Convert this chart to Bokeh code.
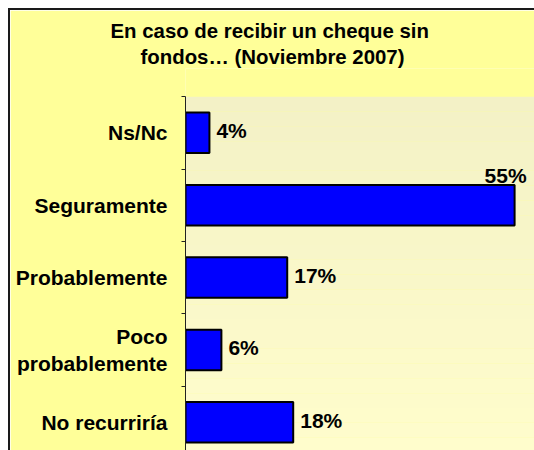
from bokeh.plotting import figure
from bokeh.models import (Range1d, FixedTicker, BoxAnnotation, ColumnDataSource, Title)
from bokeh.core.properties import value
from bokeh.embed import file_html
from bokeh.resources import INLINE

# ---- data ----
categories = ["Ns/Nc", "Seguramente", "Probablemente", "Poco\nprobablemente", "No recurriría"]
percentages = [4, 55, 17, 6, 18]
value_labels = ["4%", "55%", "17%", "6%", "18%"]
title_lines = ["En caso de recibir un cheque sin", "fondos\u2026 (Noviembre 2007)"]

FONT = "Liberation Sans"
X_MAX = 58.66
Y_TOP, Y_BOTTOM = -0.5, 4.4167      # extent of the shaded plot area
Y_HEADROOM = 0.389                   # yellow gap between title and plot area

positions = list(range(len(categories)))

p = figure(width=524, height=440, output_backend="svg", toolbar_location=None,
           x_range=Range1d(0, X_MAX), y_range=Range1d(Y_BOTTOM, Y_TOP - Y_HEADROOM),
           x_axis_location=None, title=None,
           min_border_left=175, min_border_right=0, min_border_bottom=0, min_border_top=58)
p.styles = {"margin-left": "8px", "margin-top": "8px", "box-sizing": "content-box",
            "border-top": "2px solid #1a1a1a", "border-left": "2px solid #1a1a1a"}

p.border_fill_color = "#FFFF99"
p.background_fill_color = "#FFFF99"
p.outline_line_color = None
p.grid.visible = False

# vertical gradient of the plot area
top_c = (0xF3, 0xF1, 0xC6)
bot_c = (0xFF, 0xFD, 0xCC)
n_strips = 24
span = Y_BOTTOM - Y_TOP
for k in range(n_strips):
    t = k / (n_strips - 1)
    c = tuple(int(round(a + (b - a) * t)) for a, b in zip(top_c, bot_c))
    p.add_layout(BoxAnnotation(top=Y_TOP + span * k / n_strips,
                               bottom=Y_TOP + span * (k + 1) / n_strips,
                               fill_color="#%02x%02x%02x" % c, fill_alpha=1.0,
                               line_alpha=0, level="underlay"))

# title, one line per Title so each line can be centred over the chart area
title_offsets = [-75, -45]
for line, off in reversed(list(zip(title_lines, title_offsets))):
    p.add_layout(Title(text=line, align="left", offset=off, standoff=2,
                       text_font=FONT, text_font_style="bold", text_font_size="20.4px",
                       text_color="black"), "above")

# bars
src = ColumnDataSource(dict(y=positions, v=percentages, lab=value_labels, cat=categories))
p.hbar(y="y", left=0, right="v", height=0.56, source=src,
       fill_color="#0000FF", line_color="black", line_width=2)

# value labels
fits = [v + 8 <= X_MAX for v in percentages]
src_r = ColumnDataSource(dict(x=[v for v, f in zip(percentages, fits) if f],
                              y=[y for y, f in zip(positions, fits) if f],
                              t=[l for l, f in zip(value_labels, fits) if f]))
src_a = ColumnDataSource(dict(x=[v for v, f in zip(percentages, fits) if not f],
                              y=[y for y, f in zip(positions, fits) if not f],
                              t=[l for l, f in zip(value_labels, fits) if not f]))
p.text(x="x", y="y", text="t", source=src_r, x_offset=7, y_offset=-2,
       text_align="left", text_baseline="middle",
       text_font=value(FONT), text_font_style="bold", text_font_size="21px", text_color="black")
p.text(x="x", y="y", text="t", source=src_a, x_offset=-9, y_offset=-30,
       text_align="center", text_baseline="alphabetic",
       text_font=value(FONT), text_font_style="bold", text_font_size="21px", text_color="black")

# category axis (line limited to the shaded plot area)
ax = p.yaxis[0]
ax.bounds = (Y_TOP, Y_BOTTOM)
ax.ticker = FixedTicker(ticks=positions, minor_ticks=[i - 0.5 for i in range(len(categories) + 1)])
ax.major_label_overrides = {i: c for i, c in zip(positions, categories)}
ax.major_tick_line_color = None
ax.major_tick_in = 0
ax.major_tick_out = 0
ax.minor_tick_in = 0
ax.minor_tick_out = 4
ax.minor_tick_line_color = "#222222"
ax.axis_line_color = "#222222"
ax.major_label_standoff = 14
ax.major_label_text_font = FONT
ax.major_label_text_font_style = "bold"
ax.major_label_text_font_size = "21px"
ax.major_label_text_color = "black"

open("out.html", "w").write(file_html(p, INLINE))
